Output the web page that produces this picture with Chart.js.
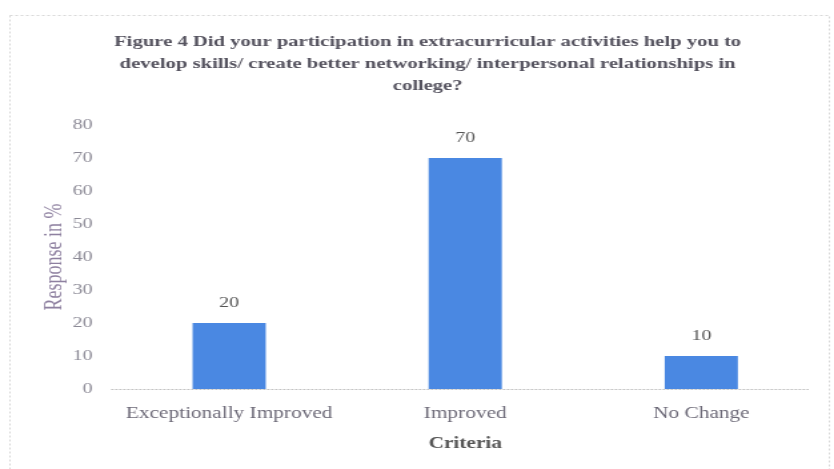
<!DOCTYPE html>
<html>
<head>
<meta charset="utf-8">
<script src="https://cdn.jsdelivr.net/npm/chart.js@4"></script>
<style>
  html, body { margin: 0; padding: 0; background: #fff; }
  /* the source figure is a horizontally stretched scan: draw narrow, show wide */
  #chart { display: block; width: 834px; height: 469px; }
</style>
</head>
<body>
<canvas id="chart" width="626" height="469" style="width:834px;height:469px"></canvas>
<script>
const categories = ['Exceptionally Improved', 'Improved', 'No Change'];
const responses = [20, 70, 10];
const yTicks = [0, 10, 20, 30, 40, 50, 60, 70, 80];

const titleLines = [
    'Figure 4 Did your participation in extracurricular activities help you to',
    'develop skills/ create better networking/ interpersonal relationships in',
    'college?'
];

const serif = '"Liberation Serif", "Times New Roman", serif';

// dotted frame around the figure + dotted baseline
const framePlugin = {
    id: 'frame',
    beforeDraw(chart) {
        const c = chart.ctx;
        c.save();
        c.fillStyle = '#fff';
        c.fillRect(0, 0, chart.width, chart.height);
        c.strokeStyle = '#d8d8d8';
        c.setLineDash([2, 2]);
        c.lineWidth = 1;
        c.strokeRect(7.5, 15.5, 615, 470);
        c.restore();
    },
    afterDraw(chart) {
        const a = chart.chartArea;
        const y = chart.scales.y.getPixelForValue(0);
        const c = chart.ctx;
        c.save();
        c.strokeStyle = '#c4c4c4';
        c.setLineDash([2, 1]);
        c.beginPath();
        c.moveTo(a.left, y + 0.5);
        c.lineTo(a.right - 8, y + 0.5);
        c.stroke();
        c.restore();
    }
};

// value labels above each bar
const valueLabels = {
    id: 'valueLabels',
    afterDatasetsDraw(chart) {
        const c = chart.ctx;
        const meta = chart.getDatasetMeta(0);
        c.save();
        c.font = '15px ' + serif;
        c.fillStyle = '#555';
        c.textAlign = 'center';
        c.textBaseline = 'middle';
        meta.data.forEach((bar, i) => {
            c.fillText(responses[i], bar.x, bar.y - 20);
        });
        c.restore();
    }
};

new Chart(document.getElementById('chart'), {
    type: 'bar',
    data: {
        labels: categories,
        datasets: [{
            data: responses,
            backgroundColor: '#4a88e2',
            categoryPercentage: 1,
            barPercentage: 0.31
        }]
    },
    options: {
        responsive: false,
        animation: false,
        layout: { padding: { left: 27, right: 11, top: 31, bottom: 16 } },
        plugins: {
            legend: { display: false },
            tooltip: { enabled: false },
            title: {
                display: true,
                text: titleLines,
                color: '#55535f',
                font: { family: serif, size: 15.5, weight: 'bold', lineHeight: 1.42 },
                padding: { top: 0, bottom: 28 }
            }
        },
        scales: {
            x: {
                grid: { display: false, drawTicks: false },
                border: { display: false },
                ticks: {
                    color: '#6d6a78',
                    padding: 15,
                    font: { family: serif, size: 16 }
                },
                title: {
                    display: true,
                    text: 'Criteria',
                    color: '#555',
                    padding: { top: 4, bottom: 0 },
                    font: { family: serif, size: 16, weight: 'bold' }
                },
                afterFit: s => { s.height = 64; }
            },
            y: {
                min: 0,
                max: 80,
                afterBuildTicks: s => { s.ticks = yTicks.map(v => ({ value: v })); },
                grid: { display: false, drawTicks: false },
                border: { display: false },
                ticks: {
                    color: '#8c8a96',
                    padding: 14,
                    font: { family: serif, size: 15 }
                },
                title: {
                    display: true,
                    text: 'Response in %',
                    color: '#8e80a0',
                    padding: { top: 3, bottom: 0 },
                    font: { family: serif, size: 18 }
                },
                afterFit: s => { s.width = 56.4; }
            }
        }
    },
    plugins: [framePlugin, valueLabels]
});
</script>
</body>
</html>
